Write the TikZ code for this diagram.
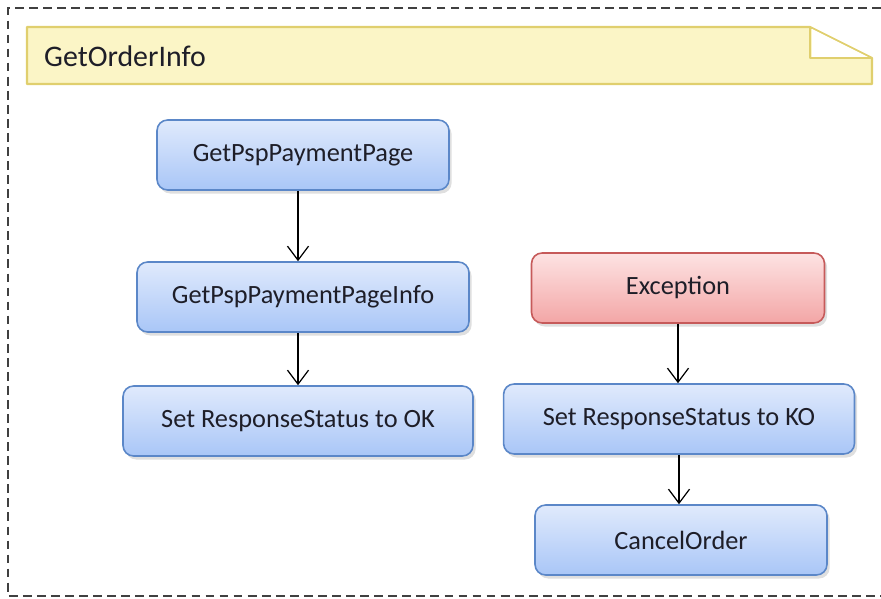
\documentclass[tikz,border=0pt]{standalone}
\usepackage{fontspec}
\setmainfont{Carlito}
\usetikzlibrary{arrows.meta,positioning,shadows}

\definecolor{actTop}{HTML}{E0EAFC}
\definecolor{actBot}{HTML}{A9C6F7}
\definecolor{actLine}{HTML}{5B87C8}
\definecolor{excTop}{HTML}{FDE3E3}
\definecolor{excBot}{HTML}{F3A6A6}
\definecolor{excLine}{HTML}{C65A5A}
\definecolor{noteFill}{HTML}{FBF5C6}
\definecolor{noteLine}{HTML}{E0CF6E}
\definecolor{txt}{HTML}{1E1E28}

\begin{document}
\begin{tikzpicture}[
    x=0.02cm, y=-0.02cm,
    act/.style={draw=actLine, line width=0.9pt, rounded corners=6pt, top color=actTop, bottom color=actBot,
        minimum height=1.4cm, align=center, font=\fontsize{15}{17}\selectfont, text=txt,
        drop shadow={shadow xshift=1.5pt, shadow yshift=-2pt, opacity=0.25}},
    exc/.style={act, draw=excLine, top color=excTop, bottom color=excBot},
    arr/.style={-{Straight Barb[length=8pt,width=12pt]}, line width=0.7pt},
    note/.style={draw=noteLine, fill=noteFill, line width=1.2pt, line join=round}
]
\useasboundingbox (0,0) rectangle (881,598);

% frame
\draw[dashed, dash pattern=on 5pt off 3pt, line width=0.9pt, black!75] (881,8) -- (8,8) -- (8,596) -- (881,596);

% title note
\draw[note] (27,27) -- (810,27) -- (872,58) -- (872,84) -- (27,84) -- cycle;
\fill[white] (812,29) -- (870,58) -- (812,58) -- cycle;
\draw[noteLine, line width=1.2pt, line join=round] (810,27) -- (810,58) -- (872,58);
\node[anchor=west, font=\fontsize{17}{19}\selectfont, text=txt] (title) at (38,56) {GetOrderInfo};

% left flow
\node[act, minimum width=5.84cm] (page) at (303,155) {GetPspPaymentPage};
\node[act, minimum width=6.64cm] (info) at (303,297) {GetPspPaymentPageInfo};
\node[act, minimum width=7.0cm] (ok) at (298,421) {Set ResponseStatus to OK};

% right flow
\node[exc, minimum width=5.86cm] (exc) at (678,288) {Exception};
\node[act, minimum width=7.02cm] (ko) at (679,419) {Set ResponseStatus to KO};
\node[act, minimum width=5.84cm] (cancel) at (681,540) {CancelOrder};

\draw[arr] ([xshift=-5*0.02cm]page.south) -- ([xshift=-5*0.02cm]page.south |- info.north);
\draw[arr] ([xshift=-5*0.02cm]info.south) -- ([xshift=-5*0.02cm]info.south |- ok.north);
\draw[arr] (exc.south) -- (exc.south |- ko.north);
\draw[arr] (ko.south) -- (ko.south |- cancel.north);
\end{tikzpicture}
\end{document}
